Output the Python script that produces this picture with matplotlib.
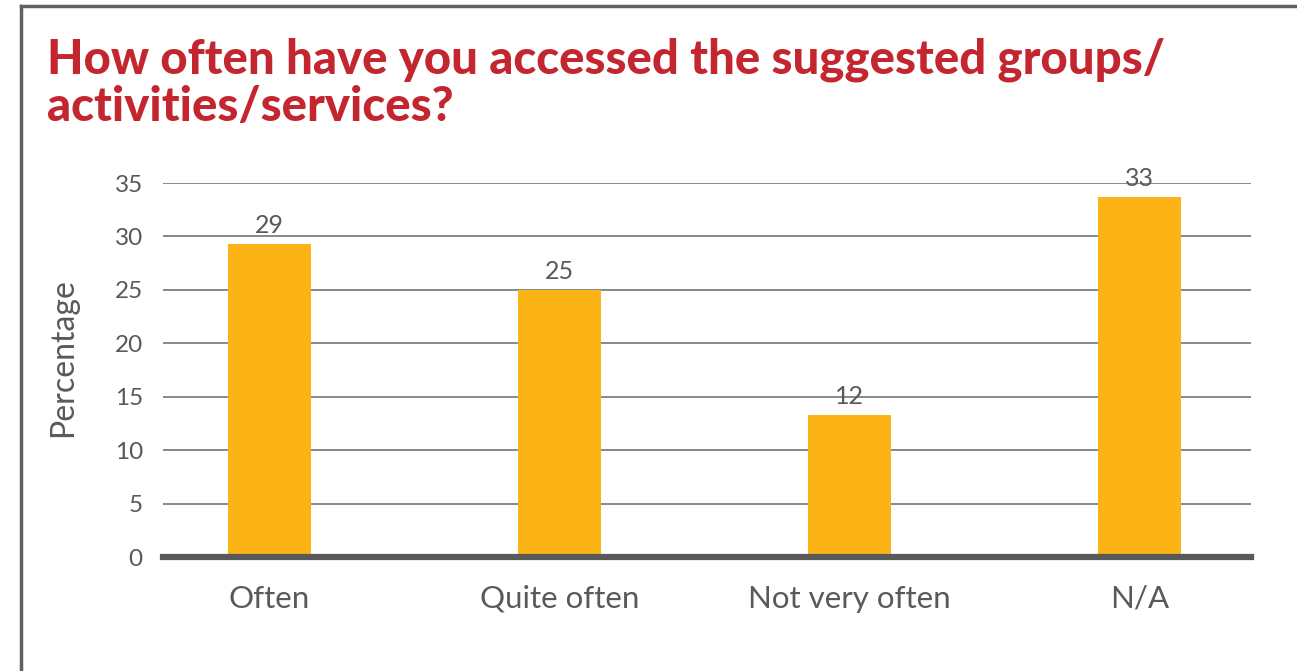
import matplotlib.pyplot as plt
from matplotlib.lines import Line2D

# data
categories = ['Often', 'Quite often', 'Not very often', 'N/A']
values = [29.3, 25.0, 13.3, 33.7]
value_labels = ['29', '25', '12', '33']
yticks = [0, 5, 10, 15, 20, 25, 30, 35]

plt.rcParams['font.family'] = ['Lato', 'DejaVu Sans']
grey = '#595959'

fig = plt.figure(figsize=(12.97, 6.71), dpi=100)
ax = fig.add_axes([163 / 1297, 1 - 557 / 671, 1088 / 1297, 374 / 671])

x = range(len(categories))
ax.bar(x, values, width=0.286, color='#FBB316', zorder=2)
for i, v in enumerate(values):
    ax.text(i, v + 0.6, value_labels[i], ha='center', va='bottom', fontsize=18, color=grey)

ax.set_xlim(-0.367, 3.383)
ax.set_ylim(0, 35)
ax.set_yticks(yticks)
ax.set_xticks(list(x))
ax.set_xticklabels(categories, fontsize=22.5, color=grey)
ax.tick_params(axis='y', labelsize=17.5, labelcolor=grey, length=0, pad=14.5)
ax.tick_params(axis='x', length=0, pad=20)
ax.grid(axis='y', color='#7f7f7f', linewidth=1.3, zorder=0)
for s in ['top', 'right', 'left']:
    ax.spines[s].set_visible(False)
ax.spines['bottom'].set_color(grey)
ax.spines['bottom'].set_linewidth(4.5)
ax.spines['bottom'].set_zorder(3)
ax.set_ylabel('Percentage', fontsize=23, color=grey)
ax.yaxis.set_label_coords(-0.078, 0.532)

fig.text(47 / 1297, 1 - 121 / 671, 'How often have you accessed the suggested groups/\nactivities/services?',
         fontsize=34, fontweight='black', color='#C3262F', ha='left', va='baseline', linespacing=1.07)

# frame lines (top and left)
fig.add_artist(Line2D([21 / 1297, 1], [1 - 6 / 671, 1 - 6 / 671], color='#606060', linewidth=2.5, transform=fig.transFigure))
fig.add_artist(Line2D([21 / 1297, 21 / 1297], [0, 1 - 6 / 671], color='#606060', linewidth=2.5, transform=fig.transFigure))

fig.savefig('out.png', dpi=100)
